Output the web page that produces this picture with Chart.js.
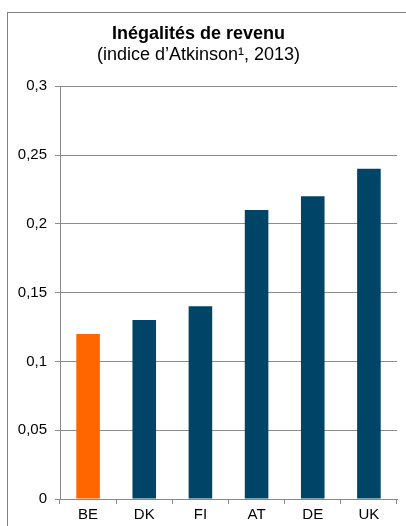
<!DOCTYPE html>
<html>
<head>
<meta charset="utf-8">
<script src="https://cdn.jsdelivr.net/npm/chart.js@4/dist/chart.umd.min.js"></script>
<style>
  html, body { margin: 0; padding: 0; background: #fff; }
  #wrap { position: relative; width: 406px; height: 526px; overflow: hidden; }
  #frame { position: absolute; left: 7px; top: 12px; width: 420px; height: 540px; border: 1px solid #808080; box-sizing: border-box; }
  canvas { position: absolute; left: 0; top: 0; }
</style>
</head>
<body>
<div id="wrap">
  <div id="frame"></div>
  <canvas id="chart" width="406" height="526"></canvas>
</div>
<script>
const countries = ["BE", "DK", "FI", "AT", "DE", "UK"];
const atkinson = [0.12, 0.13, 0.14, 0.21, 0.22, 0.24];
const barColors = ["#ff6600", "#004468", "#004468", "#004468", "#004468", "#004468"];

const fmt = v => String(Math.round(v * 100) / 100).replace(".", ",");

new Chart(document.getElementById("chart"), {
  type: "bar",
  data: {
    labels: countries,
    datasets: [{
      data: atkinson,
      backgroundColor: barColors,
      barPercentage: 0.42,
      categoryPercentage: 1,
    }],
  },
  options: {
    responsive: false,
    animation: false,
    layout: { padding: { top: 23, right: 9, bottom: 0, left: 0 } },
    plugins: {
      legend: { display: false },
      tooltip: { enabled: false },
      title: {
        display: true,
        text: "Inégalités de revenu",
        color: "#000",
        font: { family: "Liberation Sans", size: 18, weight: "bold" },
        padding: { top: 0, bottom: 0 },
      },
      subtitle: {
        display: true,
        text: "(indice d’Atkinson¹, 2013)",
        color: "#000",
        font: { family: "Liberation Sans", size: 18 },
        padding: { top: 0, bottom: 20 },
      },
    },
    scales: {
      x: {
        grid: { display: true, drawOnChartArea: false, offset: true, tickLength: 5, color: "#888" },
        border: { color: "#888" },
        ticks: { color: "#000", font: { family: "Liberation Sans", size: 15 }, padding: 2 },
      },
      y: {
        min: 0,
        max: 0.3,
        grid: { color: "#8c8c8c", tickLength: 5 },
        border: { color: "#888" },
        ticks: {
          stepSize: 0.05,
          color: "#000",
          font: { family: "Liberation Sans", size: 15 },
          padding: 8,
          callback: v => fmt(v),
        },
        afterFit: s => { s.width = 60; },
      },
    },
  },
});
</script>
</body>
</html>
